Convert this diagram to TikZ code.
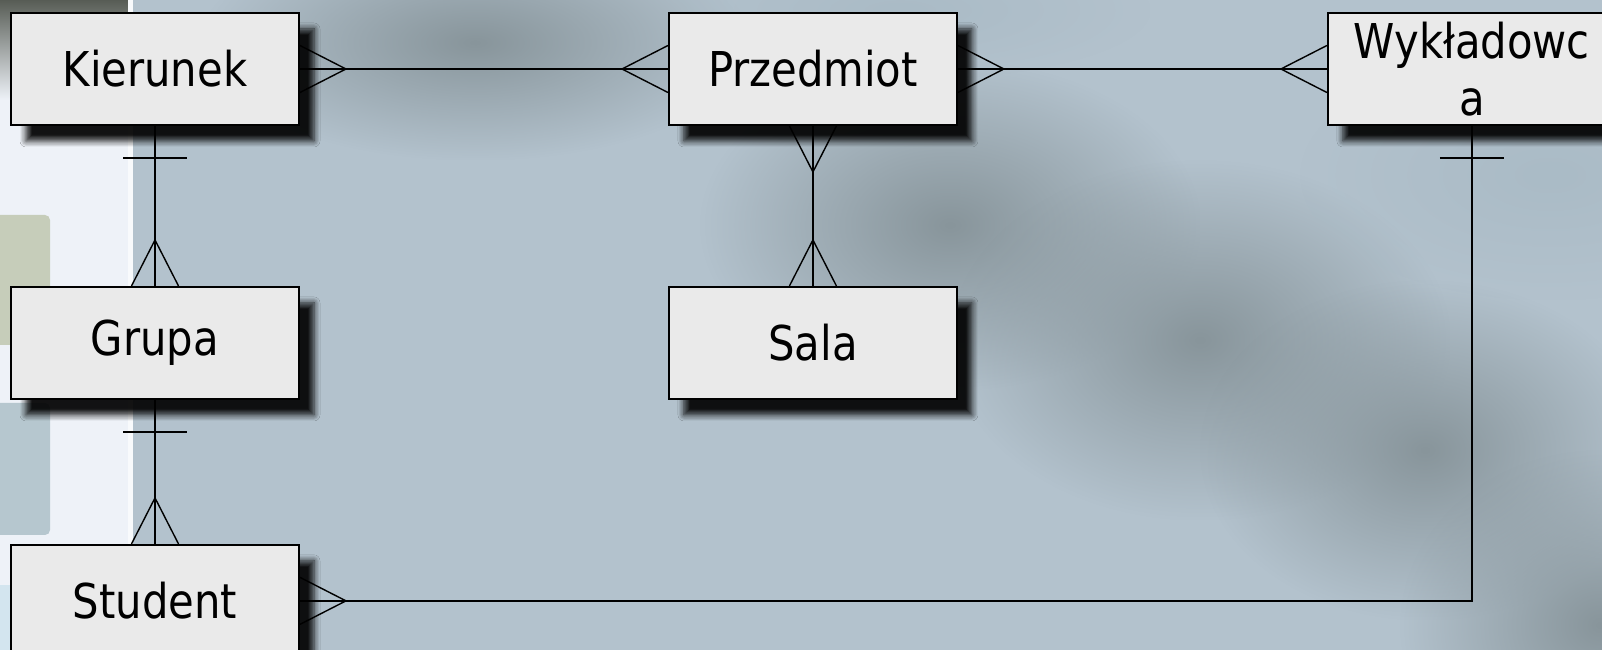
\documentclass[tikz,border=0pt]{standalone}
\usepackage{fontspec}
\setmainfont{DejaVu Sans}[FakeStretch=0.87]
\usepackage{tikz}
\usetikzlibrary{calc,positioning,shadows.blur,fadings}
\definecolor{boxgray}{HTML}{EAEAEA}
\definecolor{bgblue}{HTML}{B3C2CD}
\definecolor{bgdark}{HTML}{88959B}
\definecolor{bglight}{HTML}{AABBC6}
\definecolor{stripwhite}{HTML}{EEF2F8}
\definecolor{topdark}{HTML}{575C55}
\definecolor{sagegray}{HTML}{C6CDBA}
\definecolor{slategray}{HTML}{B6C7CF}
\definecolor{palecyan}{HTML}{D3E5EF}
\tikzfading[name=softblob, inner color=transparent!0, outer color=transparent!100]
\tikzset{
  entity/.style={draw=black, line width=1.1pt, fill=boxgray, minimum width=5.76cm,
    minimum height=2.24cm, inner sep=0pt, align=center,
    font=\fontsize{27.3}{32.5}\selectfont,
    blur shadow={shadow xshift=0.3cm, shadow yshift=-0.32cm, shadow blur radius=0.12cm,
      shadow opacity=92, shadow blur steps=6}},
  link/.style={draw=black, line width=0.8pt},
  blob/.style={fill=#1, path fading=softblob},
}

\begin{document}
\begin{tikzpicture}
\clip (0,0) rectangle (32.04,-13);
\fill[bgblue] (0,0) rectangle (32.04,-13);
\fill[blob=bgdark] (4,1.5) rectangle (15,-3.2);
\fill[blob=bglight] (13,1.2) rectangle (23,-1.6);
\fill[blob=bgdark] (14,-1.2) rectangle (24,-7.8);
\fill[blob=bgdark] (19,-3.2) rectangle (29,-10.4);
\fill[blob=bgdark] (24,-5.6) rectangle (33,-12.4);
\fill[blob=bgdark] (28,-9) rectangle (36,-16);
\fill[blob=bglight] (26,-1) rectangle (36,-6);
\fill[stripwhite] (0,0) rectangle (2.66,-13);
\shade[top color=topdark, bottom color=stripwhite] (0,0) rectangle (2.56,-2);
\fill[sagegray, rounded corners=0.1cm] (-0.2,-4.3) rectangle (1,-6.9);
\fill[slategray, rounded corners=0.1cm] (-0.2,-8.06) rectangle (1,-10.7);
\fill[palecyan] (0,-11.7) rectangle (2.56,-13);
\fill[white!60!stripwhite] (2.56,0) rectangle (2.66,-13);

\node[entity] (kier) at (3.10,-1.38) {Kierunek};
\node[entity, right=7.36cm of kier] (przed) {Przedmiot};
\node[entity, right=7.38cm of przed] (wykl) {Wykładowc\\a};
\node[entity, below=3.2cm of kier] (grupa) {Grupa};
\node[entity, below=2.88cm of grupa] (stud) {Student};
\node[entity, below=3.2cm of przed] (sala) {Sala};

\draw[link] (kier.east) -- (przed.west);
\draw[link] (przed.east) -- (wykl.west);
\draw[link] (kier.south) -- (grupa.north);
\draw[link] (grupa.south) -- (stud.north);
\draw[link] (przed.south) -- (sala.north);
\draw[link] (wykl.south) |- (stud.east);

\foreach \anc/\ux/\uy in {kier.east/1/0, przed.west/-1/0, przed.east/1/0, wykl.west/-1/0,
    przed.south/0/-1, sala.north/0/1, grupa.north/0/1, stud.north/0/1, stud.east/1/0}
  \draw[link] ($(\anc)+({0.47*(\uy)},{0.47*(\ux)})$) -- ($(\anc)+({0.92*(\ux)},{0.92*(\uy)})$)
    -- ($(\anc)-({0.47*(\uy)},{0.47*(\ux)})$);
\foreach \anc in {kier.south, grupa.south, wykl.south}
  \draw[link] ($(\anc)+(-0.64,-0.64)$) -- ($(\anc)+(0.64,-0.64)$);
\end{tikzpicture}
\end{document}
